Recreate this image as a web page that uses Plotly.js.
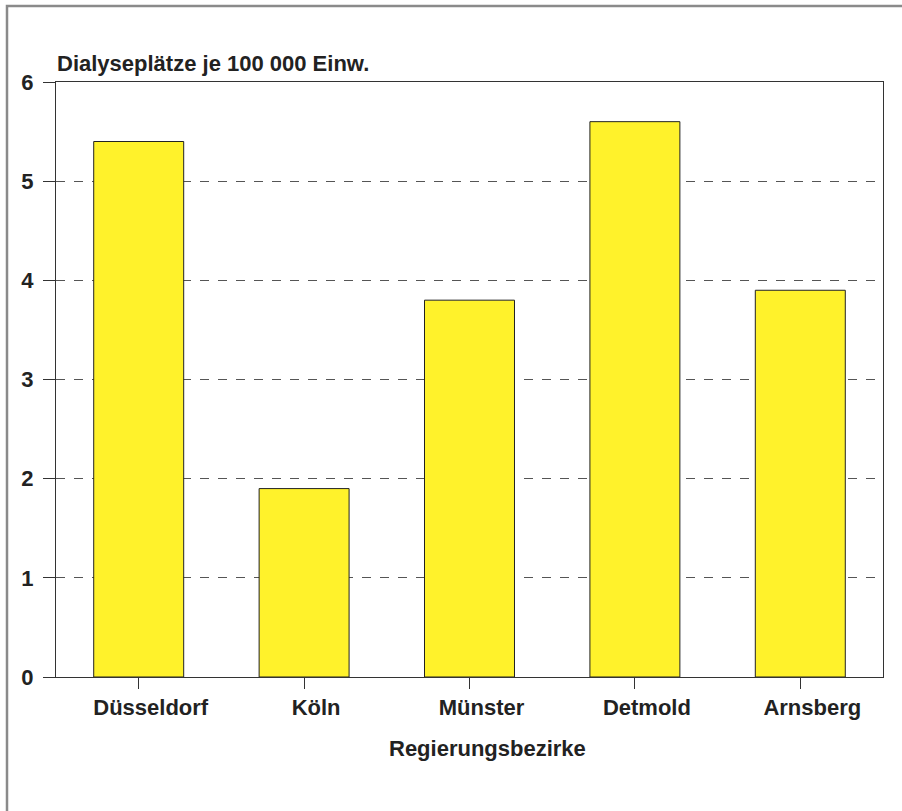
<!DOCTYPE html>
<html>
<head>
<meta charset="utf-8">
<script src="https://cdn.plot.ly/plotly-3.0.1.min.js"></script>
<style>html,body{margin:0;padding:0;background:#fff}#chart{width:902px;height:811px}</style>
</head>
<body>
<div id="chart"></div>
<script>
const categories = ["Düsseldorf", "Köln", "Münster", "Detmold", "Arnsberg"];
const values = [5.4, 1.9, 3.8, 5.6, 3.9];
const yTicks = [0, 1, 2, 3, 4, 5, 6];

const L = 56, R = 883, T = 82, B = 677, W = 902, H = 811;
const pw = R - L, ph = B - T;
const px = v => (v - L) / pw;
const py = v => (B - v) / ph;

const font = "Liberation Sans, Arial, sans-serif";

Plotly.newPlot("chart", [{
  type: "bar",
  x: categories,
  y: values,
  marker: {color: "#FFF22B", line: {color: "#222", width: 1}},
  hoverinfo: "x+y"
}], {
  width: W, height: H,
  margin: {l: L, r: W - R, t: T, b: H - B, pad: 0},
  paper_bgcolor: "#fff",
  plot_bgcolor: "#fff",
  bargap: 0.456,
  showlegend: false,
  font: {family: font, color: "#222"},
  xaxis: {
    type: "category",
    showline: true, mirror: true, linecolor: "#333", linewidth: 1,
    ticks: "outside", ticklen: 11, tickcolor: "#333", tickwidth: 1,
    ticklabelshift: 12,
    tickfont: {family: font, size: 22, color: "#222", weight: "bold"},
    showgrid: false, zeroline: false
  },
  yaxis: {
    range: [0, 6],
    tickvals: yTicks,
    showline: true, mirror: true, linecolor: "#333", linewidth: 1,
    ticks: "outside", ticklen: 12, tickcolor: "#333", tickwidth: 1,
    ticklabelstandoff: 5,
    tickfont: {family: font, size: 22, color: "#222", weight: "bold"},
    showgrid: true, gridcolor: "#555", griddash: "dash", gridwidth: 1,
    zeroline: false
  },
  annotations: [{
    xref: "paper", yref: "paper",
    x: px(55), y: py(78),
    xanchor: "left", yanchor: "bottom",
    text: "<b>Dialyseplätze je 100 000 Einw.</b>",
    showarrow: false,
    font: {family: font, size: 22, color: "#222"}
  }, {
    xref: "paper", yref: "paper",
    x: px(487), y: py(734),
    xanchor: "center", yanchor: "top",
    text: "<b>Regierungsbezirke</b>",
    showarrow: false,
    font: {family: font, size: 22, color: "#222"}
  }],
  shapes: [{
    type: "rect", xref: "paper", yref: "paper",
    x0: px(7), x1: px(940), y0: py(900), y1: py(6),
    line: {color: "#8a8a8a", width: 2.5}, layer: "below"
  }]
}, {displayModeBar: false, staticPlot: true});
</script>
</body>
</html>
